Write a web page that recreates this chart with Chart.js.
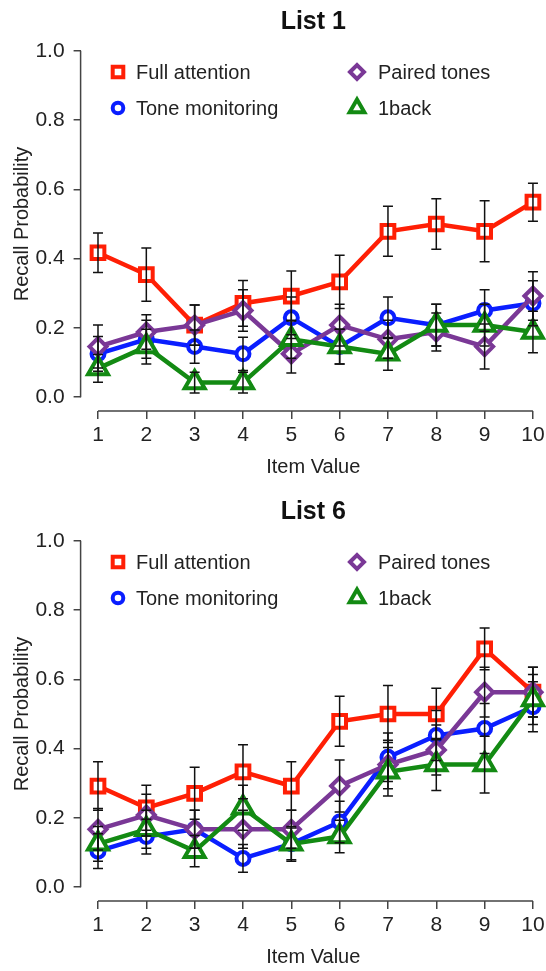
<!DOCTYPE html>
<html>
<head>
<meta charset="utf-8">
<script src="https://cdn.jsdelivr.net/npm/chart.js@4.4.0/dist/chart.umd.min.js"></script>
<style>
  html, body { margin: 0; padding: 0; background: #fff; overflow: hidden; }
  canvas { display: block; }
</style>
</head>
<body>
<canvas id="list1" width="546" height="490"></canvas>
<canvas id="list6" width="546" height="490"></canvas>
<script>
// x categories and y ticks
const items = [1, 2, 3, 4, 5, 6, 7, 8, 9, 10];
const yTicks = [0, 0.2, 0.4, 0.6, 0.8, 1.0];
const seriesNames = ['Full attention', 'Tone monitoring', 'Paired tones', '1back'];

// List 1 means and error bar half-widths
const full1 = [0.417, 0.354, 0.208, 0.271, 0.292, 0.333, 0.479, 0.500, 0.479, 0.563];
const tone1 = [0.125, 0.167, 0.146, 0.125, 0.229, 0.146, 0.229, 0.208, 0.250, 0.271];
const paired1 = [0.146, 0.188, 0.208, 0.250, 0.125, 0.208, 0.167, 0.188, 0.146, 0.292];
const back1 = [0.083, 0.146, 0.042, 0.042, 0.167, 0.146, 0.125, 0.208, 0.208, 0.188];
const fullErr1 = [0.057, 0.077, 0.058, 0.066, 0.072, 0.077, 0.072, 0.073, 0.088, 0.055];
const toneErr1 = [0.050, 0.055, 0.048, 0.048, 0.060, 0.050, 0.060, 0.060, 0.060, 0.065];
const pairedErr1 = [0.062, 0.050, 0.058, 0.060, 0.055, 0.060, 0.055, 0.055, 0.065, 0.070];
const backErr1 = [0.040, 0.050, 0.030, 0.030, 0.055, 0.050, 0.047, 0.060, 0.060, 0.060];

// List 6
const full6 = [0.292, 0.229, 0.271, 0.333, 0.292, 0.479, 0.500, 0.500, 0.688, 0.563];
const tone6 = [0.104, 0.146, 0.167, 0.083, 0.125, 0.188, 0.375, 0.438, 0.458, 0.521];
const paired6 = [0.167, 0.208, 0.167, 0.167, 0.167, 0.292, 0.354, 0.396, 0.563, 0.563];
const back6 = [0.125, 0.167, 0.104, 0.229, 0.125, 0.146, 0.333, 0.354, 0.354, 0.542];
const fullErr6 = [0.070, 0.065, 0.075, 0.078, 0.070, 0.072, 0.082, 0.074, 0.060, 0.072];
const toneErr6 = [0.050, 0.050, 0.055, 0.040, 0.046, 0.060, 0.070, 0.072, 0.072, 0.072];
const pairedErr6 = [0.060, 0.060, 0.055, 0.055, 0.055, 0.075, 0.070, 0.072, 0.072, 0.072];
const backErr6 = [0.050, 0.055, 0.045, 0.065, 0.050, 0.047, 0.070, 0.075, 0.082, 0.072];

const FONT = "'Liberation Sans', Arial, sans-serif";
const TEXT = '#222';
const AXIS = '#444';

const styles = [
  { color: '#ff1f05', pointStyle: 'rect', radius: 9, legendRadius: 7.5, order: 4 },
  { color: '#0a1eff', pointStyle: 'circle', radius: 6.5, legendRadius: 5.3, order: 3 },
  { color: '#7a3896', pointStyle: 'rectRot', radius: 8.5, legendRadius: 7, order: 2 },
  { color: '#138a13', pointStyle: 'triangle', radius: 11.5, legendRadius: 8.5, order: 1 }
];

// legend slots: [marker x, marker y, text x] in canvas pixels
const legendSlots = [[118, 72, 136], [118, 108, 136], [357, 72, 378], [357, 108, 378]];

const rStyle = {
  id: 'rStyle',
  afterDatasetsDraw(chart) {
    const { ctx, chartArea, scales: { x, y } } = chart;
    ctx.save();

    // error bars
    ctx.strokeStyle = '#111';
    ctx.lineWidth = 1.5;
    chart.data.datasets.forEach(ds => {
      ds.err.forEach((e, i) => {
        const px = x.getPixelForValue(ds.data[i].x);
        const top = y.getPixelForValue(ds.data[i].y + e);
        const bot = y.getPixelForValue(ds.data[i].y - e);
        ctx.beginPath();
        ctx.moveTo(px, top); ctx.lineTo(px, bot);
        ctx.moveTo(px - 5, top); ctx.lineTo(px + 5, top);
        ctx.moveTo(px - 5, bot); ctx.lineTo(px + 5, bot);
        ctx.stroke();
      });
    });

    // R-style axis lines, only between first and last tick
    ctx.strokeStyle = AXIS;
    ctx.lineWidth = 1.5;
    ctx.beginPath();
    ctx.moveTo(x.getPixelForValue(items[0]), chartArea.bottom);
    ctx.lineTo(x.getPixelForValue(items[items.length - 1]), chartArea.bottom);
    ctx.moveTo(chartArea.left, y.getPixelForValue(yTicks[0]));
    ctx.lineTo(chartArea.left, y.getPixelForValue(yTicks[yTicks.length - 1]));
    ctx.stroke();

    // legend inside the plot
    ctx.font = '20px ' + FONT;
    ctx.textBaseline = 'middle';
    ctx.textAlign = 'left';
    chart.data.datasets.forEach((ds, i) => {
      const [mx, my, tx] = legendSlots[i];
      const st = styles[i];
      ctx.fillStyle = '#fff';
      ctx.strokeStyle = st.color;
      ctx.lineWidth = 4;
      Chart.helpers.drawPoint(ctx, { pointStyle: st.pointStyle, radius: st.legendRadius, rotation: 0, borderWidth: 4 }, mx, my);
      ctx.fillStyle = TEXT;
      ctx.fillText(ds.label, tx, my + 1);
    });
    ctx.restore();
  }
};

function makeChart(id, title, values, errs) {
  const datasets = seriesNames.map((name, i) => ({
    label: name,
    data: items.map((v, j) => ({ x: v, y: values[i][j] })),
    err: errs[i],
    borderColor: styles[i].color,
    borderWidth: 4.5,
    pointStyle: styles[i].pointStyle,
    pointRadius: styles[i].radius,
    pointHoverRadius: styles[i].radius,
    pointBorderWidth: 4,
    pointBackgroundColor: '#fff',
    pointBorderColor: styles[i].color,
    order: styles[i].order,
    tension: 0
  }));

  return new Chart(document.getElementById(id), {
    type: 'line',
    data: { datasets },
    plugins: [rStyle],
    options: {
      responsive: false,
      animation: false,
      events: [],
      layout: { padding: 0, autoPadding: false },
      plugins: {
        legend: { display: false },
        tooltip: { enabled: false },
        title: {
          display: true,
          text: title,
          fullSize: false,
          color: '#111',
          font: { family: FONT, size: 25, weight: 'bold', lineHeight: 1.2 },
          padding: { top: 7, bottom: 0 }
        }
      },
      scales: {
        x: {
          type: 'linear',
          min: 0.64,
          max: 10.27,
          afterBuildTicks: s => { s.ticks = items.map(v => ({ value: v })); },
          afterFit: s => { s.height = 79; s.paddingLeft = 0; s.paddingRight = 0; },
          grid: { display: true, drawOnChartArea: false, drawTicks: true, tickLength: 8, color: AXIS, lineWidth: 1.5 },
          border: { display: false },
          ticks: { color: TEXT, font: { family: FONT, size: 21 }, padding: 4, maxRotation: 0, callback: v => String(v) },
          title: { display: true, text: 'Item Value', color: TEXT, font: { family: FONT, size: 20 }, padding: { top: 0, bottom: 11 } }
        },
        y: {
          min: -0.04,
          max: 1.04,
          afterBuildTicks: s => { s.ticks = yTicks.map(v => ({ value: v })); },
          afterFit: s => { s.width = 80.6; s.paddingTop = 0; s.paddingBottom = 0; },
          grid: { display: true, drawOnChartArea: false, drawTicks: true, tickLength: 7, color: AXIS, lineWidth: 1.5 },
          border: { display: false },
          ticks: { color: TEXT, font: { family: FONT, size: 21 }, padding: 9, callback: v => v.toFixed(1) },
          title: { display: true, text: 'Recall Probability', color: TEXT, font: { family: FONT, size: 20 }, padding: { top: 10, bottom: 0 } }
        }
      }
    }
  });
}

makeChart('list1', 'List 1', [full1, tone1, paired1, back1], [fullErr1, toneErr1, pairedErr1, backErr1]);
makeChart('list6', 'List 6', [full6, tone6, paired6, back6], [fullErr6, toneErr6, pairedErr6, backErr6]);
</script>
</body>
</html>
